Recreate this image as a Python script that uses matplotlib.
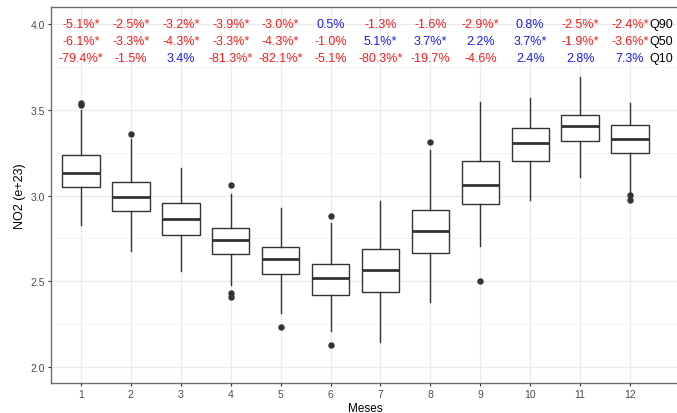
import matplotlib
matplotlib.use("Agg")
import matplotlib.pyplot as plt
import numpy as np
from matplotlib.ticker import MultipleLocator, FormatStrFormatter

# monthly NO2 box statistics
months = np.arange(1, 13)
q1 = [3.05, 2.908, 2.771, 2.66, 2.54, 2.42, 2.44, 2.663, 2.949, 3.201, 3.318, 3.25]
med = [3.129, 2.99, 2.861, 2.74, 2.63, 2.52, 2.564, 2.791, 3.06, 3.308, 3.407, 3.328]
q3 = [3.238, 3.08, 2.958, 2.812, 2.70, 2.60, 2.69, 2.917, 3.201, 3.392, 3.469, 3.409]
whislo = [2.83, 2.678, 2.56, 2.48, 2.313, 2.21, 2.144, 2.38, 2.704, 2.972, 3.11, 3.019]
whishi = [3.50, 3.33, 3.16, 3.007, 2.927, 2.84, 2.966, 3.267, 3.547, 3.567, 3.69, 3.538]
fliers = [[3.53, 3.54], [3.359], [], [3.06, 2.43, 2.41], [2.232], [2.88, 2.13],
          [], [3.31], [2.50], [], [], [3.003, 2.976]]

# trend labels per quantile
q90_labels = ["-5.1%*", "-2.5%*", "-3.2%*", "-3.9%*", "-3.0%*", "0.5%",
              "-1.3%", "-1.6%", "-2.9%*", "0.8%", "-2.5%*", "-2.4%*"]
q50_labels = ["-6.1%*", "-3.3%*", "-4.3%*", "-3.3%*", "-4.3%*", "-1.0%",
              "5.1%*", "3.7%*", "2.2%", "3.7%*", "-1.9%*", "-3.6%*"]
q10_labels = ["-79.4%*", "-1.5%", "3.4%", "-81.3%*", "-82.1%*", "-5.1%",
              "-80.3%*", "-19.7%", "-4.6%", "2.4%", "2.8%", "7.3%"]
rows = [("Q90", q90_labels, 4.0), ("Q50", q50_labels, 3.9), ("Q10", q10_labels, 3.8)]

plt.rcParams["font.family"] = ["Liberation Sans", "DejaVu Sans"]

W, H = 677, 414
fig = plt.figure(figsize=(W / 100, H / 100), dpi=100)
ax = fig.add_axes([51 / W, 1 - 384 / H, 629 / W, 376 / H])

stats = []
for i in range(12):
    stats.append(dict(med=med[i], q1=q1[i], q3=q3[i], whislo=whislo[i],
                      whishi=whishi[i], fliers=fliers[i]))

line_c = "#333333"
ax.bxp(stats, positions=months, widths=0.75, showcaps=False, patch_artist=True,
       boxprops=dict(facecolor="white", edgecolor=line_c, linewidth=1.0),
       medianprops=dict(color=line_c, linewidth=2.0, solid_capstyle="butt"),
       whiskerprops=dict(color=line_c, linewidth=1.0),
       flierprops=dict(marker="o", markersize=3.6, markerfacecolor=line_c,
                       markeredgecolor=line_c, linestyle="none"),
       zorder=3)

for name, labels, yv in rows:
    for m, lab in zip(months, labels):
        col = "#FF1A1A" if lab.startswith("-") else "#1A1AFF"
        ax.text(m, yv, lab, color=col, fontsize=9, ha="center", va="center", zorder=4)
    ax.text(12.38, yv, name, color="black", fontsize=9, ha="left", va="center", zorder=4)

ax.set_xlim(0.4, 13.0)
ax.set_ylim(1.907, 4.099)
ax.set_xticks(months)
ax.set_xticklabels([str(m) for m in months])
ax.yaxis.set_major_locator(MultipleLocator(0.5))
ax.yaxis.set_minor_locator(MultipleLocator(0.25))
ax.yaxis.set_major_formatter(FormatStrFormatter("%.1f"))

ax.grid(True, which="major", color="#EBEBEB", linewidth=1.0, zorder=0)
ax.grid(True, which="minor", axis="y", color="#F2F2F2", linewidth=0.6, zorder=0)
ax.set_axisbelow(True)

for s in ax.spines.values():
    s.set_color("#6E6E6E")
    s.set_linewidth(1.0)

ax.tick_params(axis="both", which="major", length=2.5, width=0.8, color="#333333",
               labelcolor="#4D4D4D", labelsize=7.5, pad=2)
ax.tick_params(axis="y", which="minor", length=0)

ax.set_xlabel("Meses", fontsize=8.5, labelpad=2)
ax.set_ylabel("NO2 (e+23)", fontsize=9, labelpad=3)

fig.savefig("out.png", dpi=100)
